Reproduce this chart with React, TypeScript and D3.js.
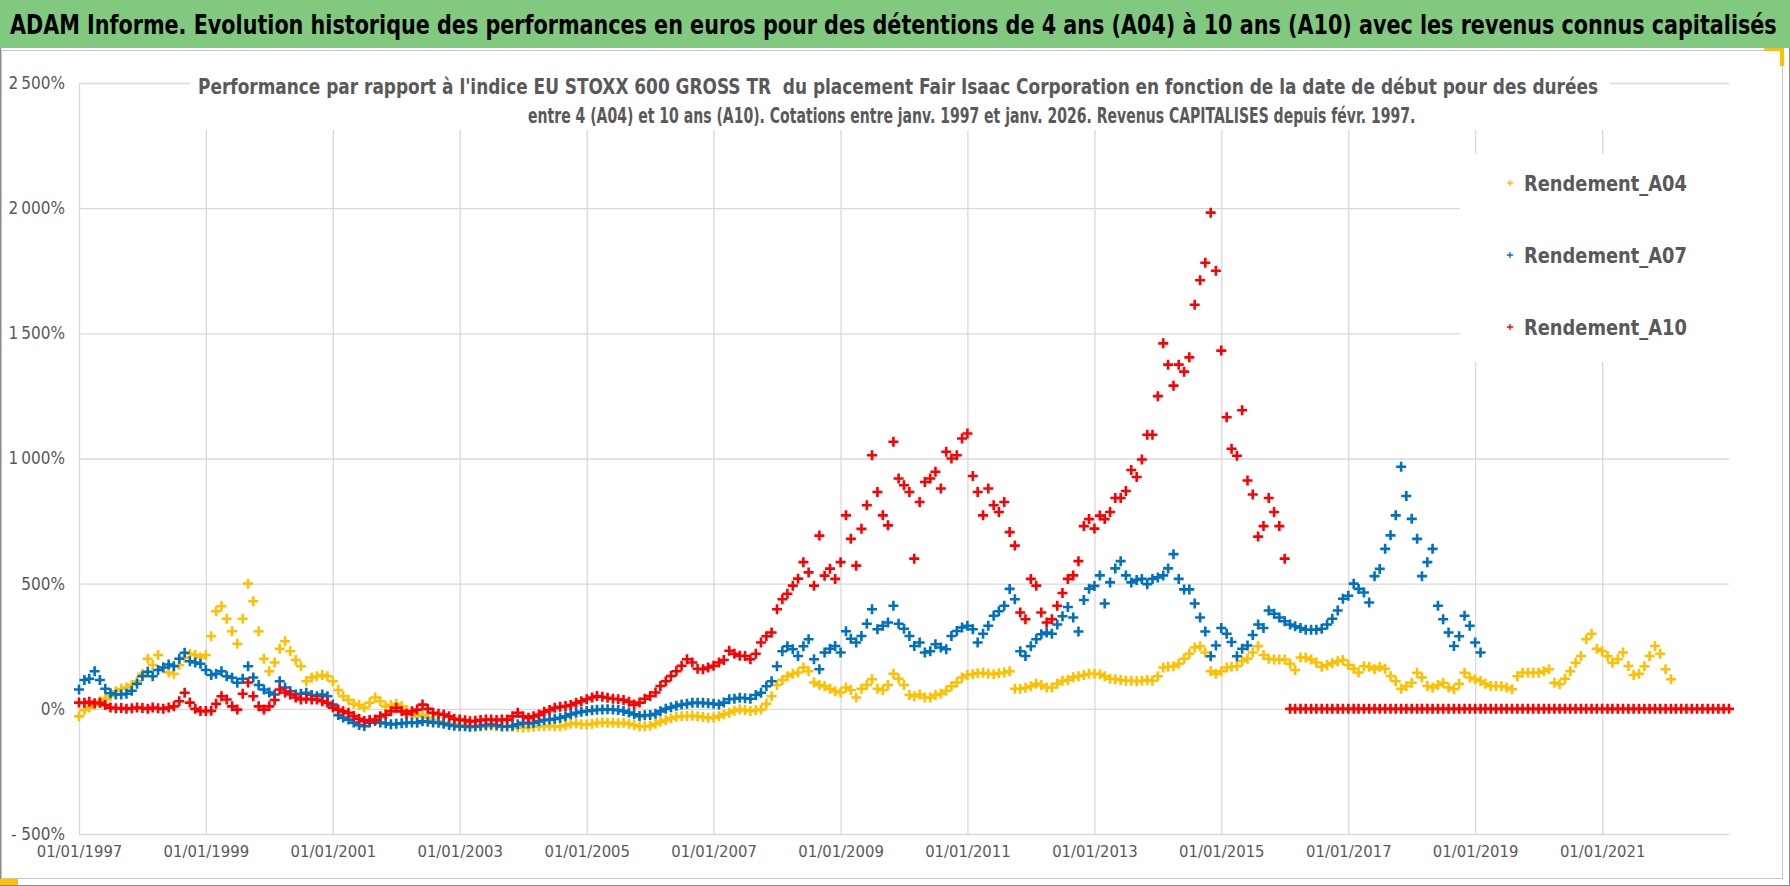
//@ts-nocheck
import * as d3 from 'd3';
import { useEffect, useRef } from 'react';

// Monthly readings (%), first value = January 1997, one value per month
const rendementA04 = [
  -30, -5, 5, 15, 30, 40, 50, 70, 80, 85, 95, 110,
  140, 200, 175, 215, 165, 145, 140, 175, 205, 220, 215, 205,
  215, 290, 390, 410, 360, 310, 260, 360, 500, 430, 310, 200,
  150, 185, 240, 270, 230, 195, 170, 110, 125, 130, 135, 130,
  110, 75, 50, 35, 20, 15, 5, 25, 45, 30, 10, 15,
  20, 10, -5, -20, -30, -25, -35, -45, -50, -55, -60, -63,
  -65, -68, -70, -72, -70, -70, -68, -70, -72, -70, -72, -74,
  -76, -74, -72, -70, -70, -68, -70, -70, -66, -60, -58, -62,
  -63, -60, -56, -55, -56, -56, -58, -56, -60, -65, -70, -70,
  -68, -60, -52, -45, -38, -32, -30, -29, -28, -30, -33, -36,
  -35, -30, -22, -16, -8, -3, -5, -9, -5, -3, 20, 50,
  95, 115, 130, 140, 145, 165, 150, 105, 95, 90, 80, 70,
  65, 85, 75, 45, 80, 95, 118, 80, 75, 95, 140, 120,
  95, 55, 50, 57, 45, 45, 55, 60, 72, 90, 105, 125,
  135, 138, 142, 144, 140, 138, 142, 145, 150, 80, 80, 84,
  90, 100, 95, 85, 85, 100, 112, 115, 126, 130, 135, 140,
  140, 138, 130, 120, 118, 115, 112, 112, 110, 112, 115, 112,
  130, 165, 168, 170, 180, 200, 220, 245, 250, 225, 150, 140,
  150, 165, 168, 170, 190, 200, 225, 250, 215, 200, 197, 197,
  197, 180, 155, 205, 205, 197, 185, 168, 175, 182, 190, 195,
  175, 160, 145, 170, 168, 158, 168, 160, 131, 110, 80, 90,
  104, 144, 125, 91, 85, 95, 104, 85, 78, 100, 144, 125,
  118, 111, 100, 91, 91, 90, 85, 78, 130, 144, 144, 144,
  144, 150, 158, 104, 98, 120, 150, 184, 211, 278, 300, 240,
  230, 210, 184, 198, 225, 171, 135, 140, 170, 211, 251, 220,
  158, 118,
];

const rendementA07 = [
  77, 115, 120, 150, 115, 80, 62, 57, 57, 60, 72, 100,
  130, 148, 130, 155, 165, 177, 170, 200, 224, 190, 185, 180,
  155, 135, 140, 150, 130, 124, 104, 120, 170, 125, 95, 77,
  65, 57, 110, 85, 70, 57, 60, 64, 55, 50, 57, 50,
  17, -25, -35, -43, -55, -65, -69, -55, -49, -55, -58, -62,
  -60, -58, -56, -55, -56, -50, -52, -55, -56, -60, -65, -68,
  -70, -70, -72, -70, -68, -65, -63, -66, -70, -70, -68, -62,
  -56, -58, -56, -50, -45, -43, -40, -36, -30, -22, -16, -12,
  -9, -6, -4, -3, -2, -3, -5, -9, -15, -22, -29, -26,
  -25, -20, -10, 0, 6, 12, 17, 20, 24, 24, 24, 22,
  20, 17, 25, 38, 40, 44, 42, 40, 55, 64, 90, 110,
  170, 230, 250, 238, 211, 250, 278, 198, 158, 225, 240, 251,
  225, 310, 280, 265, 291, 340, 398, 318, 332, 345, 412, 340,
  320, 291, 251, 265, 225, 230, 258, 245, 238, 291, 311, 325,
  332, 318, 265, 300, 332, 372, 390, 412, 479, 438, 230, 211,
  250, 278, 298, 305, 300, 337, 370, 407, 365, 309, 435, 480,
  491, 533, 421, 505, 561, 590, 533, 505, 515, 519, 498, 519,
  525, 533, 561, 618, 519, 477, 477, 421, 365, 309, 210, 253,
  323, 300, 267, 210, 240, 253, 295, 337, 323, 393, 380, 365,
  350, 337, 330, 323, 316, 316, 316, 320, 337, 360, 393, 440,
  452, 500, 479, 465, 425, 530, 559, 639, 693, 773, 967, 850,
  759, 679, 530, 586, 639, 412, 358, 305, 251, 290, 372, 332,
  265, 225,
];

const rendementA10 = [
  25, 24, 28, 22, 24, 15, 5, 2, 3, 0, 2, 5,
  3, 0, 5, 2, 0, 5, 10, 30, 64, 25, 0, -9,
  -9, -8, 20, 50, 37, 10, -3, 60, 105, 50, 10, -3,
  10, 35, 77, 65, 57, 45, 37, 40, 37, 37, 30, 24,
  5, -3, -10, -16, -29, -40, -49, -45, -43, -30, -23, -10,
  4, -10, -20, -10, -3, 17, 0, -16, -20, -23, -30, -40,
  -43, -46, -50, -48, -45, -43, -43, -45, -43, -43, -30, -16,
  -30, -36, -30, -23, -12, -5, 4, 8, 11, 15, 24, 30,
  38, 45, 51, 48, 44, 40, 38, 35, 28, 17, 25, 40,
  51, 65, 91, 110, 131, 150, 172, 198, 185, 160, 158, 165,
  172, 185, 195, 232, 220, 212, 211, 198, 220, 265, 290, 305,
  398, 438, 460, 492, 520, 586, 545, 492, 692, 532, 560, 519,
  586, 773, 679, 572, 719, 813, 1013, 866, 773, 733, 1067, 920,
  893, 866, 600, 826, 906, 920, 947, 880, 1027, 1000, 1013, 1080,
  1100, 930, 866, 773, 880, 813, 786, 826, 706, 652, 385, 358,
  519, 492, 385, 345, 358, 412, 463, 519, 533, 590, 730, 758,
  720, 772, 758, 786, 842, 842, 870, 954, 926, 996, 1095, 1095,
  1249, 1460, 1375, 1291, 1375, 1347, 1404, 1614, 1712, 1782, 1982, 1750,
  1431, 1165, 1039, 1011, 1193, 912, 856, 688, 730, 842, 786, 730,
  600,
  0, 0, 0, 0, 0, 0, 0, 0, 0, 0, 0,
  0, 0, 0, 0, 0, 0, 0, 0, 0, 0, 0, 0,
  0, 0, 0, 0, 0, 0, 0, 0, 0, 0, 0, 0,
  0, 0, 0, 0, 0, 0, 0, 0, 0, 0, 0, 0,
  0, 0, 0, 0, 0, 0, 0, 0, 0, 0, 0, 0,
  0, 0, 0, 0, 0, 0, 0, 0, 0, 0, 0, 0,
  0, 0, 0, 0, 0, 0, 0, 0, 0, 0, 0, 0,
  0,
];

const seriesNames = ['Rendement_A04', 'Rendement_A07', 'Rendement_A10'];
const seriesColors = ['#FFC000', '#0070C0', '#FF0000'];
const yTicks = [-500, 0, 500, 1000, 1500, 2000, 2500];
const xTickYears = [1997, 1999, 2001, 2003, 2005, 2007, 2009, 2011, 2013, 2015, 2017, 2019, 2021];

const TITLE =
  'ADAM Informe. Evolution historique des performances en euros pour des détentions de 4 ans (A04) à 10 ans (A10) avec les revenus connus capitalisés';
const SUBTITLE_1 =
  "Performance par rapport à l'indice EU STOXX 600 GROSS TR  du placement Fair Isaac Corporation en fonction de la date de début pour des durées";
const SUBTITLE_2 =
  'entre 4 (A04) et 10 ans (A10). Cotations entre janv. 1997 et janv. 2026. Revenus CAPITALISES depuis févr. 1997.';

export default function App() {
  const ref = useRef<HTMLDivElement>(null);

  useEffect(() => {
    const el = ref.current;
    el.innerHTML = '';
    document.body.style.margin = '0';

    const SIZES = { WIDTH: 1790, HEIGHT: 886, LEFT: 79, RIGHT: 1729, TOP: 83, BOTTOM: 834 };
    const FONT = '"Liberation Sans Narrow", "DejaVu Sans Condensed", "Open Sans", sans-serif';
    const GREY = '#595959';

    const svg = d3
      .create('svg')
      .attr('width', SIZES.WIDTH)
      .attr('height', SIZES.HEIGHT)
      .style('display', 'block')
      .attr('font-family', FONT);
    // attach first so texts can be measured
    el.append(svg.node());

    // squeeze a text horizontally so it spans [x0, x0 + width]
    const fitText = (sel, x0, yBase, width) => {
      sel.each(function () {
        const w = this.getComputedTextLength();
        d3.select(this)
          .attr('x', 0)
          .attr('y', 0)
          .attr('transform', `translate(${x0},${yBase}) scale(${width / w},1)`);
      });
    };

    // frame + chart area
    svg.append('rect').attr('width', SIZES.WIDTH).attr('height', SIZES.HEIGHT).attr('fill', '#fff');
    svg
      .append('rect')
      .attr('x', 1.5)
      .attr('y', 50.5)
      .attr('width', 1781)
      .attr('height', 828)
      .attr('fill', '#fff')
      .attr('stroke', '#c6c6c6');
    svg
      .append('rect')
      .attr('x', 0.5)
      .attr('y', 0.5)
      .attr('width', SIZES.WIDTH - 1)
      .attr('height', SIZES.HEIGHT - 1)
      .attr('fill', 'none')
      .attr('stroke', '#8a8a8a');

    // title bar
    svg.append('rect').attr('width', SIZES.WIDTH).attr('height', 48).attr('fill', '#80c97f');
    svg
      .append('text')
      .attr('font-size', 27)
      .attr('font-weight', 'bold')
      .attr('fill', '#000')
      .text(TITLE)
      .call(fitText, 10, 34, 1768);

    // selection handles
    svg.append('rect').attr('x', 0).attr('y', 879).attr('width', 18).attr('height', 6).attr('fill', '#FFC000');
    svg.append('rect').attr('x', 1764).attr('y', 48).attr('width', 20).attr('height', 3).attr('fill', '#FFC000');
    svg.append('rect').attr('x', 1780).attr('y', 48).attr('width', 4).attr('height', 18).attr('fill', '#FFC000');

    /**
     * Scales
     */
    const x = d3
      .scaleTime()
      .domain([new Date(1997, 0, 1), new Date(2023, 0, 1)])
      .range([SIZES.LEFT, SIZES.RIGHT]);
    const y = d3.scaleLinear().domain([-500, 2500]).range([SIZES.BOTTOM, SIZES.TOP]);
    const xTicks = xTickYears.map((yr) => new Date(yr, 0, 1));

    // Gridlines
    svg
      .append('g')
      .attr('transform', `translate(${SIZES.LEFT},0)`)
      .call(d3.axisLeft(y).tickValues(yTicks).tickSize(-(SIZES.RIGHT - SIZES.LEFT)).tickFormat(''))
      .call((g) => g.select('.domain').remove())
      .call((g) => g.selectAll('line').attr('stroke', '#d9d9d9').attr('stroke-width', 1.3));
    svg
      .append('g')
      .attr('transform', `translate(0,${SIZES.BOTTOM})`)
      .call(d3.axisBottom(x).tickValues(xTicks).tickSize(-(SIZES.BOTTOM - SIZES.TOP)).tickFormat(''))
      .call((g) => g.select('.domain').remove())
      .call((g) => g.selectAll('line').attr('stroke', '#d9d9d9').attr('stroke-width', 1.3));

    // Tick labels
    const fmtPct = (v) => (v < 0 ? '- ' : '') + d3.format(',')(Math.abs(v)).replace(',', '\u2009') + '%';
    svg
      .append('g')
      .attr('transform', `translate(${SIZES.LEFT},0)`)
      .call(d3.axisLeft(y).tickValues(yTicks).tickSize(0).tickPadding(14).tickFormat(fmtPct))
      .attr('font-family', FONT)
      .attr('font-size', 17)
      .call((g) => g.select('.domain').remove())
      .call((g) => g.selectAll('text').attr('fill', GREY));
    svg
      .append('g')
      .attr('transform', `translate(0,${SIZES.BOTTOM})`)
      .call(d3.axisBottom(x).tickValues(xTicks).tickSize(0).tickPadding(11).tickFormat(d3.timeFormat('%d/%m/%Y')))
      .attr('font-family', FONT)
      .attr('font-size', 16.5)
      .call((g) => g.select('.domain').remove())
      .call((g) => g.selectAll('text').attr('fill', GREY));

    // Subtitle (white box over the grid)
    svg.append('rect').attr('x', 190).attr('y', 66).attr('width', 1420).attr('height', 64).attr('fill', '#fff');
    const sub = svg.append('g').attr('font-size', 21).attr('font-weight', 'bold').attr('fill', GREY);
    sub
      .append('text')
      .style('white-space', 'pre')
      .text(SUBTITLE_1)
      .call(fitText, 198, 94, 1401);
    sub
      .append('text')
      .style('white-space', 'pre')
      .text(SUBTITLE_2)
      .call(fitText, 528, 123, 888);

    // Legend box
    svg.append('rect').attr('x', 1460).attr('y', 154).attr('width', 269).attr('height', 208).attr('fill', '#fff');
    const legend = svg
      .append('g')
      .selectAll('g')
      .data(seriesNames)
      .join('g')
      .attr('transform', (d, i) => `translate(1510,${183 + i * 72})`);
    legend
      .append('path')
      .attr('d', 'M-3,0H3M0,-3V3')
      .attr('stroke', (d, i) => seriesColors[i])
      .attr('stroke-width', 1.3);
    legend
      .append('text')
      .attr('font-size', 22)
      .attr('font-weight', 'bold')
      .attr('fill', GREY)
      .text((d) => d)
      .each(function () {
        const w = this.getComputedTextLength();
        d3.select(this).attr('transform', `translate(14,8) scale(${163 / w},1)`);
      });

    /**
     * Points: "+" markers, one per monthly value
     */
    const allSeries = [rendementA04, rendementA07, rendementA10];
    const gPoints = svg.append('g');
    allSeries.forEach((values, s) => {
      gPoints
        .append('g')
        .attr('stroke', seriesColors[s])
        .attr('stroke-width', 2.6)
        .selectAll('path')
        .data(values)
        .join('path')
        .attr('transform', (v, i) => `translate(${x(new Date(1997, i, 1))},${y(v)})`)
        .attr('d', 'M-5,0H5M0,-5V5');
    });
  }, []);

  return <div id='playground' ref={ref}></div>;
}
